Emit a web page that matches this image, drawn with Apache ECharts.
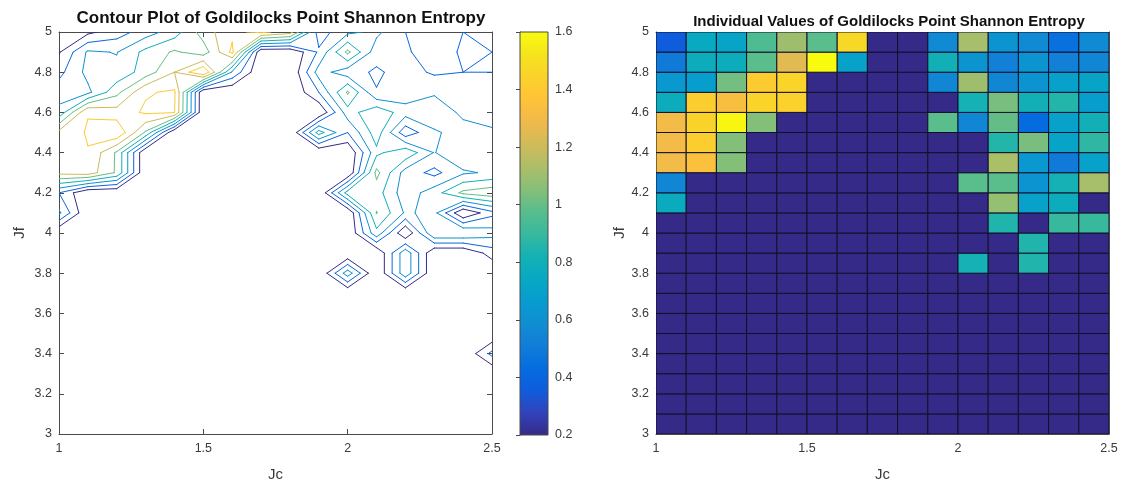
<!DOCTYPE html>
<html>
<head>
<meta charset="utf-8">
<script src="https://cdn.jsdelivr.net/npm/echarts@6/dist/echarts.min.js"></script>
<style>
  html, body { margin: 0; padding: 0; background: #ffffff; }
  #chart { width: 1125px; height: 487px; }
</style>
</head>
<body>
<div id="chart"></div>
<script>
// Grid of coupling values
const jc = [1.0, 1.1, 1.2, 1.3, 1.4, 1.5, 1.6, 1.7, 1.8, 1.9, 2.0, 2.1, 2.2, 2.3, 2.4, 2.5];
const jf = [3.0, 3.1, 3.2, 3.3, 3.4, 3.5, 3.6, 3.7, 3.8, 3.9, 4.0, 4.1, 4.2, 4.3, 4.4, 4.5, 4.6, 4.7, 4.8, 4.9, 5.0];

// Shannon entropy at the Goldilocks point, one row per Jf value (columns follow jc)
const sJf30 = [0, 0, 0, 0, 0, 0, 0, 0, 0, 0, 0, 0, 0, 0, 0, 0];
const sJf31 = [0, 0, 0, 0, 0, 0, 0, 0, 0, 0, 0, 0, 0, 0, 0, 0];
const sJf32 = [0, 0, 0, 0, 0, 0, 0, 0, 0, 0, 0, 0, 0, 0, 0, 0];
const sJf33 = [0, 0, 0, 0, 0, 0, 0, 0, 0, 0, 0, 0, 0, 0, 0, 0];
const sJf34 = [0, 0, 0, 0, 0, 0, 0, 0, 0, 0, 0, 0, 0, 0, 0, 0.46];
const sJf35 = [0, 0, 0, 0, 0, 0, 0, 0, 0, 0, 0, 0, 0, 0, 0, 0];
const sJf36 = [0, 0, 0, 0, 0, 0, 0, 0, 0, 0, 0, 0, 0, 0, 0, 0];
const sJf37 = [0, 0, 0, 0, 0, 0, 0, 0, 0, 0, 0, 0, 0, 0, 0, 0];
const sJf38 = [0, 0, 0, 0, 0, 0, 0, 0, 0, 0, 0.71, 0, 0.74, 0, 0, 0];
const sJf39 = [0, 0, 0, 0, 0, 0, 0, 0, 0, 0, 0, 0, 0.74, 0, 0, 0.29];
const sJf40 = [0, 0, 0, 0, 0, 0, 0, 0, 0, 0, 0, 0.74, 0, 0.80, 0.80, 0.69];
const sJf41 = [0.64, 0, 0, 0, 0, 0, 0, 0, 0, 0, 0, 1.01, 0.57, 0.66, 0, 0.34];
const sJf42 = [0.40, 0, 0, 0, 0, 0, 0, 0, 0, 0, 0.89, 0.89, 0.48, 0.71, 1.05, 1.14];
const sJf43 = [1.26, 1.31, 0.97, 0, 0, 0, 0, 0, 0, 0, 0, 1.06, 0.51, 0.34, 0.57, 0.63];
const sJf44 = [1.26, 1.39, 0.97, 0, 0, 0, 0, 0, 0, 0, 0, 0.75, 0.95, 0.59, 0.78, 0.69];
const sJf45 = [1.26, 1.42, 1.58, 0.97, 0, 0, 0, 0, 0, 0.89, 0.40, 0.91, 0.26, 0.57, 0.69, 0.63];
const sJf46 = [0.66, 1.39, 1.29, 1.43, 1.41, 0, 0, 0, 0, 0, 0.71, 0.95, 0.69, 0.75, 0.55, 0.51];
const sJf47 = [0.51, 0.55, 0.94, 1.38, 1.43, 0, 0, 0, 0, 0.40, 1.03, 0.41, 0.48, 0.57, 0.59, 0.57];
const sJf48 = [0.34, 0.66, 0.66, 0.89, 1.20, 1.60, 0.57, 0, 0, 0.69, 0.48, 0.37, 0.48, 0.37, 0.40, 0.40];
const sJf49 = [0.18, 0.63, 0.59, 0.86, 1.03, 0.89, 1.45, 0, 0, 0.43, 1.05, 0.48, 0.43, 0.29, 0.43, 0.40];
const sJf50 = [0.05, 0.15, 0.30, 0.50, 0.70, 1.10, 1.35, 1.45, 1.30, 0.30, 0.55, 0.65, 0.40, 0.32, 0.40, 0.40];

const entropy = [sJf30, sJf31, sJf32, sJf33, sJf34, sJf35, sJf36, sJf37, sJf38, sJf39, sJf40,
                 sJf41, sJf42, sJf43, sJf44, sJf45, sJf46, sJf47, sJf48, sJf49, sJf50];

// Contour levels; the colour bar spans the level range, the cells span the data range
const contourLevels = [0.2, 0.4, 0.6, 0.8, 1.0, 1.2, 1.4];
const levelLimits = [0.2, 1.6];
const valueLimits = [0, 1.6];

// parula colormap
const parula = ['#352a87', '#3243ba', '#0f5cdd', '#046de0', '#127dd8', '#108ed2', '#079ccf',
                '#07a9c2', '#15b1b4', '#38b99e', '#59bd8c', '#87bf77', '#aebe67', '#d1bb59',
                '#f1b94a', '#ffc337', '#fad32a', '#f5e41d', '#f9fb0e'];

// Marching squares: line segments [x1, y1, x2, y2, level] for every contour level
function contourSegments(xs, ys, z, levels) {
  const segs = [];
  levels.forEach(L => {
    for (let j = 0; j < ys.length - 1; j++) {
      for (let i = 0; i < xs.length - 1; i++) {
        const c = [
          [xs[i], ys[j], z[j][i]],
          [xs[i + 1], ys[j], z[j][i + 1]],
          [xs[i + 1], ys[j + 1], z[j + 1][i + 1]],
          [xs[i], ys[j + 1], z[j + 1][i]]
        ];
        const pts = [];
        for (let e = 0; e < 4; e++) {
          const a = c[e], b = c[(e + 1) % 4];
          if ((a[2] > L) !== (b[2] > L)) {
            const t = (L - a[2]) / (b[2] - a[2]);
            pts.push([a[0] + t * (b[0] - a[0]), a[1] + t * (b[1] - a[1])]);
          } else {
            pts.push(null);
          }
        }
        const hits = pts.filter(p => p);
        if (hits.length === 2) {
          segs.push([hits[0][0], hits[0][1], hits[1][0], hits[1][1], L]);
        } else if (hits.length === 4) {
          const centre = (c[0][2] + c[1][2] + c[2][2] + c[3][2]) / 4;
          if ((centre > L) === (c[0][2] > L)) {
            segs.push([pts[0][0], pts[0][1], pts[1][0], pts[1][1], L]);
            segs.push([pts[2][0], pts[2][1], pts[3][0], pts[3][1], L]);
          } else {
            segs.push([pts[3][0], pts[3][1], pts[0][0], pts[0][1], L]);
            segs.push([pts[1][0], pts[1][1], pts[2][0], pts[2][1], L]);
          }
        }
      }
    }
  });
  return segs;
}

// Flat-shaded cells: each cell takes the value at its lower-left grid point
function cellData(xs, ys, z) {
  const cells = [];
  for (let j = 0; j < ys.length - 1; j++) {
    for (let i = 0; i < xs.length - 1; i++) {
      cells.push([xs[i], ys[j], xs[i + 1], ys[j + 1], z[j][i]]);
    }
  }
  return cells;
}

const chart = echarts.init(document.getElementById('chart'), null, { renderer: 'canvas' });

const FONT = 'Liberation Sans, Arial, Helvetica, sans-serif';
const AXIS_COLOR = '#4a4a4a';
const LABEL_COLOR = '#3a3a3a';

function xAxisDef(gridIndex, showLabels, pos) {
  return {
    type: 'value', gridIndex, position: pos, min: 1, max: 2.5, interval: 0.5,
    name: showLabels ? 'Jc' : '', nameLocation: 'middle', nameGap: 33,
    nameTextStyle: { fontFamily: FONT, fontSize: 15, color: LABEL_COLOR },
    axisLine: { show: true, onZero: false, lineStyle: { color: AXIS_COLOR, width: 1 } },
    axisTick: { show: true, inside: true, length: 5, lineStyle: { color: AXIS_COLOR } },
    axisLabel: { show: showLabels, fontFamily: FONT, fontSize: 12.5, color: LABEL_COLOR, margin: 8 },
    splitLine: { show: false }
  };
}
function yAxisDef(gridIndex, showLabels, pos, gap) {
  return {
    type: 'value', gridIndex, position: pos, min: 3, max: 5, interval: 0.2,
    name: showLabels ? 'Jf' : '', nameLocation: 'middle', nameGap: gap, nameRotate: 90,
    nameTextStyle: { fontFamily: FONT, fontSize: 15, color: LABEL_COLOR },
    axisLine: { show: true, onZero: false, lineStyle: { color: AXIS_COLOR, width: 1 } },
    axisTick: { show: true, inside: true, length: 5, lineStyle: { color: AXIS_COLOR } },
    axisLabel: { show: showLabels, fontFamily: FONT, fontSize: 12.5, color: LABEL_COLOR, margin: 7 },
    splitLine: { show: false }
  };
}

const option = {
  backgroundColor: '#ffffff',
  animation: false,
  title: [
    {
      text: 'Contour Plot of Goldilocks Point Shannon Entropy',
      left: 276, top: 5, textAlign: 'center',
      textStyle: { fontFamily: FONT, fontSize: 17, fontWeight: 'bold', color: '#111' }
    },
    {
      text: 'Individual Values of Goldilocks Point Shannon Entropy',
      left: 884, top: 9, textAlign: 'center',
      textStyle: { fontFamily: FONT, fontSize: 15, fontWeight: 'bold', color: '#111' }
    }
  ],
  grid: [
    { left: 59, top: 32, width: 433, height: 403 },
    { left: 520, top: 32, width: 28, height: 403 },
    { left: 656, top: 32, width: 453, height: 403 }
  ],
  xAxis: [
    xAxisDef(0, true, 'bottom'),
    xAxisDef(0, false, 'top'),
    { type: 'value', gridIndex: 1, min: 0, max: 1, show: false },
    xAxisDef(2, true, 'bottom'),
    xAxisDef(2, false, 'top')
  ],
  yAxis: [
    yAxisDef(0, true, 'left', 32),
    yAxisDef(0, false, 'right', 32),
    {
      type: 'value', gridIndex: 1, position: 'right', min: levelLimits[0], max: levelLimits[1], interval: 0.2,
      axisLine: { show: true, lineStyle: { color: AXIS_COLOR, width: 1 } },
      axisTick: { show: true, inside: true, length: 4, lineStyle: { color: AXIS_COLOR } },
      axisLabel: { fontFamily: FONT, fontSize: 12.5, color: LABEL_COLOR, margin: 7 },
      splitLine: { show: false }
    },
    yAxisDef(2, true, 'left', 26),
    yAxisDef(2, false, 'right', 26)
  ],
  visualMap: [
    {
      type: 'continuous', show: false, min: levelLimits[0], max: levelLimits[1],
      dimension: 4, seriesIndex: 0, inRange: { color: parula }
    },
    {
      type: 'continuous', show: false, min: valueLimits[0], max: valueLimits[1],
      dimension: 4, seriesIndex: 2, inRange: { color: parula }
    }
  ],
  series: [
    {
      // contour lines
      type: 'custom', xAxisIndex: 0, yAxisIndex: 0, clip: true,
      encode: { x: [0, 2], y: [1, 3] },
      data: contourSegments(jc, jf, entropy, contourLevels),
      renderItem: (params, api) => {
        const p1 = api.coord([api.value(0), api.value(1)]);
        const p2 = api.coord([api.value(2), api.value(3)]);
        return {
          type: 'line',
          shape: { x1: p1[0], y1: p1[1], x2: p2[0], y2: p2[1] },
          style: { stroke: api.visual('color'), lineWidth: 1, lineCap: 'round' }
        };
      }
    },
    {
      // colour bar
      type: 'custom', xAxisIndex: 2, yAxisIndex: 2, silent: true,
      encode: { x: [0, 2], y: [1, 3] },
      data: [[0, levelLimits[0], 1, levelLimits[1]]],
      renderItem: (params, api) => {
        const lo = api.coord([api.value(0), api.value(1)]);
        const hi = api.coord([api.value(2), api.value(3)]);
        const stops = parula.map((c, k) => ({ offset: 1 - k / (parula.length - 1), color: c })).reverse();
        return {
          type: 'rect',
          shape: { x: lo[0], y: hi[1], width: hi[0] - lo[0], height: lo[1] - hi[1] },
          style: {
            fill: new echarts.graphic.LinearGradient(0, 0, 0, 1, stops),
            stroke: AXIS_COLOR, lineWidth: 1
          }
        };
      }
    },
    {
      // individual values
      type: 'custom', xAxisIndex: 3, yAxisIndex: 3, clip: true,
      encode: { x: [0, 2], y: [1, 3] },
      data: cellData(jc, jf, entropy),
      renderItem: (params, api) => {
        const a = api.coord([api.value(0), api.value(1)]);
        const b = api.coord([api.value(2), api.value(3)]);
        return {
          type: 'rect',
          shape: { x: a[0], y: b[1], width: b[0] - a[0], height: a[1] - b[1] },
          style: { fill: api.visual('color'), stroke: '#10102a', lineWidth: 1 }
        };
      }
    }
  ]
};

chart.setOption(option);
</script>
</body>
</html>
